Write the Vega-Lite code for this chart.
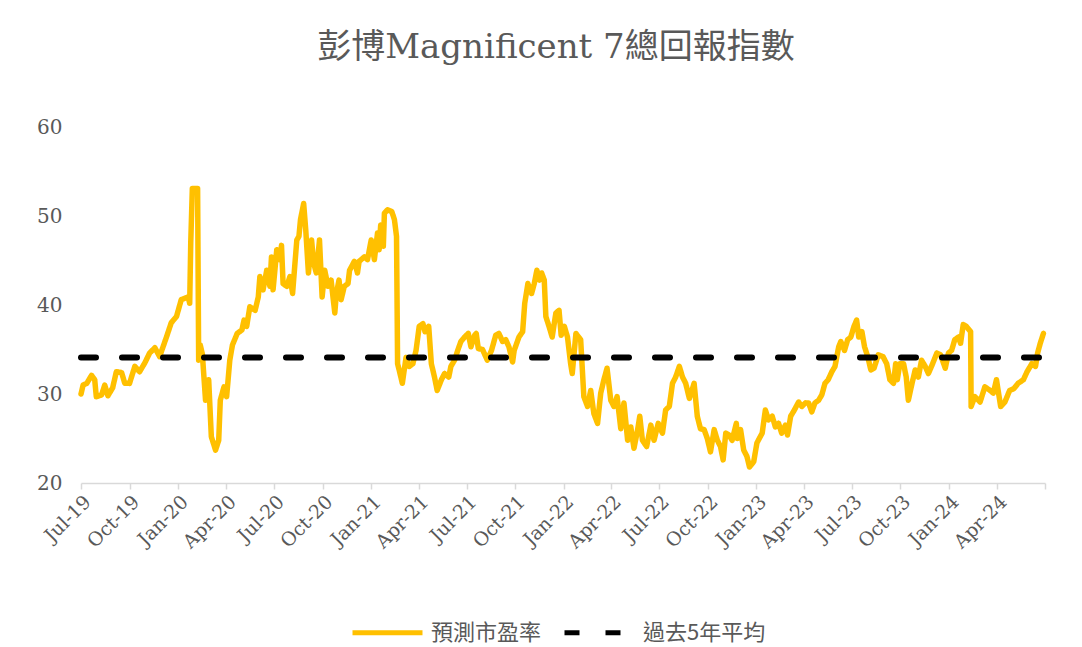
{
  "$schema": "https://vega.github.io/schema/vega-lite/v6.json",
  "width": 964,
  "height": 356,
  "autosize": {"type": "none"},
  "padding": {"left": 81, "top": 127, "right": 37, "bottom": 164},
  "background": "white",
  "title": {
    "text": "彭博Magnificent 7總回報指數",
    "font": "DejaVu Serif, Noto Sans CJK TC",
    "fontSize": 34,
    "fontWeight": "normal",
    "color": "#595959",
    "anchor": "middle",
    "frame": "group",
    "dx": -7,
    "offset": 52
  },
  "config": {
    "view": {"stroke": null},
    "legend": {
      "orient": "none",
      "legendX": 269,
      "legendY": 468,
      "direction": "horizontal",
      "title": null,
      "labelFont": "Noto Sans CJK TC",
      "labelFontSize": 22,
      "labelColor": "#595959",
      "symbolType": "stroke",
      "symbolSize": 4900,
      "symbolStrokeWidth": 5,
      "labelOffset": 6,
      "columnPadding": 12
    }
  },
  "datasets": {
    "pe": [
      {"d":"2019-07-01","v":30.0},{"d":"2019-07-05","v":31.0},{"d":"2019-07-12","v":31.2},{"d":"2019-07-21","v":32.1},
      {"d":"2019-07-27","v":31.6},{"d":"2019-07-30","v":29.7},{"d":"2019-08-09","v":29.9},{"d":"2019-08-15","v":31.0},
      {"d":"2019-08-21","v":29.8},{"d":"2019-08-30","v":30.7},{"d":"2019-09-06","v":32.5},{"d":"2019-09-16","v":32.4},
      {"d":"2019-09-22","v":31.2},{"d":"2019-10-01","v":31.2},{"d":"2019-10-11","v":33.1},{"d":"2019-10-20","v":32.5},
      {"d":"2019-10-30","v":33.5},{"d":"2019-11-08","v":34.6},{"d":"2019-11-18","v":35.2},{"d":"2019-11-27","v":34.2},
      {"d":"2019-12-10","v":36.4},{"d":"2019-12-19","v":38.0},{"d":"2019-12-29","v":38.7},{"d":"2020-01-07","v":40.6},
      {"d":"2020-01-20","v":40.9},{"d":"2020-01-23","v":40.2},{"d":"2020-01-25","v":47.0},{"d":"2020-01-28","v":53.1},
      {"d":"2020-02-07","v":53.1},{"d":"2020-02-09","v":33.8},{"d":"2020-02-12","v":35.5},{"d":"2020-02-16","v":34.5},
      {"d":"2020-02-22","v":29.3},{"d":"2020-02-28","v":31.6},{"d":"2020-03-04","v":25.2},{"d":"2020-03-12","v":23.7},
      {"d":"2020-03-18","v":24.8},{"d":"2020-03-21","v":29.3},{"d":"2020-03-28","v":30.8},{"d":"2020-04-02","v":29.7},
      {"d":"2020-04-08","v":33.8},{"d":"2020-04-13","v":35.5},{"d":"2020-04-22","v":36.8},{"d":"2020-05-01","v":37.2},
      {"d":"2020-05-05","v":38.3},{"d":"2020-05-10","v":37.6},{"d":"2020-05-16","v":39.8},{"d":"2020-05-26","v":39.4},
      {"d":"2020-06-01","v":40.9},{"d":"2020-06-04","v":43.2},{"d":"2020-06-10","v":41.7},{"d":"2020-06-17","v":43.9},
      {"d":"2020-06-23","v":42.1},{"d":"2020-06-26","v":45.4},{"d":"2020-06-29","v":41.7},{"d":"2020-07-06","v":46.2},
      {"d":"2020-07-12","v":45.1},{"d":"2020-07-15","v":46.7},{"d":"2020-07-18","v":42.4},{"d":"2020-07-25","v":42.1},
      {"d":"2020-07-31","v":43.2},{"d":"2020-08-05","v":41.3},{"d":"2020-08-13","v":47.3},{"d":"2020-08-17","v":47.7},
      {"d":"2020-08-20","v":49.6},{"d":"2020-08-26","v":51.4},{"d":"2020-08-30","v":48.4},{"d":"2020-09-04","v":43.6},
      {"d":"2020-09-10","v":47.3},{"d":"2020-09-14","v":44.7},{"d":"2020-09-19","v":43.6},{"d":"2020-09-25","v":47.3},
      {"d":"2020-09-30","v":40.9},{"d":"2020-10-05","v":43.9},{"d":"2020-10-11","v":42.1},{"d":"2020-10-17","v":42.8},
      {"d":"2020-10-24","v":39.1},{"d":"2020-10-27","v":41.3},{"d":"2020-11-01","v":42.8},{"d":"2020-11-05","v":40.6},
      {"d":"2020-11-11","v":42.1},{"d":"2020-11-18","v":42.4},{"d":"2020-11-21","v":43.9},{"d":"2020-11-30","v":44.9},
      {"d":"2020-12-06","v":43.6},{"d":"2020-12-09","v":44.9},{"d":"2020-12-19","v":45.4},{"d":"2020-12-25","v":45.1},
      {"d":"2021-01-01","v":47.3},{"d":"2021-01-07","v":45.1},{"d":"2021-01-13","v":48.1},{"d":"2021-01-16","v":46.2},
      {"d":"2021-01-19","v":49.0},{"d":"2021-01-24","v":46.6},{"d":"2021-01-26","v":50.3},{"d":"2021-02-01","v":50.7},
      {"d":"2021-02-09","v":50.5},{"d":"2021-02-14","v":49.6},{"d":"2021-02-18","v":47.7},{"d":"2021-02-20","v":33.4},
      {"d":"2021-02-23","v":32.7},{"d":"2021-03-01","v":31.2},{"d":"2021-03-08","v":34.1},{"d":"2021-03-14","v":33.1},
      {"d":"2021-03-21","v":33.4},{"d":"2021-03-27","v":34.9},{"d":"2021-04-02","v":37.6},{"d":"2021-04-09","v":37.9},
      {"d":"2021-04-13","v":37.0},{"d":"2021-04-20","v":37.6},{"d":"2021-04-25","v":33.4},{"d":"2021-05-01","v":31.9},
      {"d":"2021-05-06","v":30.4},{"d":"2021-05-14","v":31.6},{"d":"2021-05-20","v":32.3},{"d":"2021-05-28","v":31.9},
      {"d":"2021-06-01","v":33.1},{"d":"2021-06-08","v":33.8},{"d":"2021-06-14","v":34.9},{"d":"2021-06-20","v":35.9},
      {"d":"2021-06-27","v":36.4},{"d":"2021-07-04","v":36.8},{"d":"2021-07-09","v":35.3},{"d":"2021-07-16","v":36.6},
      {"d":"2021-07-19","v":36.8},{"d":"2021-07-23","v":35.1},{"d":"2021-07-31","v":35.0},{"d":"2021-08-09","v":33.8},
      {"d":"2021-08-17","v":34.9},{"d":"2021-08-25","v":36.6},{"d":"2021-08-31","v":36.8},{"d":"2021-09-07","v":35.9},
      {"d":"2021-09-13","v":36.1},{"d":"2021-09-19","v":35.3},{"d":"2021-09-26","v":33.6},{"d":"2021-09-29","v":34.9},
      {"d":"2021-10-08","v":36.4},{"d":"2021-10-15","v":37.0},{"d":"2021-10-19","v":40.2},{"d":"2021-10-25","v":42.4},
      {"d":"2021-11-01","v":41.3},{"d":"2021-11-06","v":42.4},{"d":"2021-11-11","v":43.9},{"d":"2021-11-16","v":42.8},
      {"d":"2021-11-20","v":43.6},{"d":"2021-11-25","v":42.8},{"d":"2021-11-28","v":38.7},{"d":"2021-12-04","v":37.6},
      {"d":"2021-12-10","v":36.4},{"d":"2021-12-17","v":39.1},{"d":"2021-12-23","v":39.4},{"d":"2021-12-27","v":36.6},
      {"d":"2022-01-02","v":37.6},{"d":"2022-01-08","v":36.4},{"d":"2022-01-14","v":33.4},{"d":"2022-01-17","v":32.3},
      {"d":"2022-01-24","v":36.8},{"d":"2022-02-02","v":36.1},{"d":"2022-02-08","v":29.7},{"d":"2022-02-15","v":28.6},
      {"d":"2022-02-21","v":30.4},{"d":"2022-02-27","v":27.8},{"d":"2022-03-06","v":26.7},{"d":"2022-03-12","v":30.1},
      {"d":"2022-03-18","v":31.6},{"d":"2022-03-24","v":32.9},{"d":"2022-03-31","v":29.3},{"d":"2022-04-06","v":28.6},
      {"d":"2022-04-12","v":29.7},{"d":"2022-04-19","v":26.1},{"d":"2022-04-25","v":29.0},{"d":"2022-05-02","v":24.8},
      {"d":"2022-05-08","v":26.3},{"d":"2022-05-14","v":23.9},{"d":"2022-05-21","v":26.0},{"d":"2022-05-25","v":27.5},
      {"d":"2022-05-30","v":24.8},{"d":"2022-06-07","v":24.1},{"d":"2022-06-15","v":26.5},{"d":"2022-06-21","v":24.8},
      {"d":"2022-06-29","v":26.7},{"d":"2022-07-07","v":25.6},{"d":"2022-07-13","v":28.2},{"d":"2022-07-20","v":28.6},
      {"d":"2022-07-26","v":31.2},{"d":"2022-08-01","v":31.9},{"d":"2022-08-08","v":33.1},{"d":"2022-08-14","v":31.9},
      {"d":"2022-08-20","v":31.2},{"d":"2022-08-27","v":29.5},{"d":"2022-09-05","v":31.2},{"d":"2022-09-11","v":27.5},
      {"d":"2022-09-17","v":26.1},{"d":"2022-09-24","v":26.0},{"d":"2022-09-30","v":25.0},{"d":"2022-10-06","v":23.5},
      {"d":"2022-10-13","v":26.0},{"d":"2022-10-19","v":24.8},{"d":"2022-10-25","v":24.1},{"d":"2022-10-30","v":22.6},
      {"d":"2022-11-04","v":25.6},{"d":"2022-11-10","v":25.4},{"d":"2022-11-16","v":24.8},{"d":"2022-11-24","v":26.7},
      {"d":"2022-11-26","v":25.0},{"d":"2022-12-02","v":26.0},{"d":"2022-12-08","v":23.7},{"d":"2022-12-14","v":23.0},
      {"d":"2022-12-19","v":21.8},{"d":"2022-12-27","v":22.4},{"d":"2023-01-02","v":24.5},{"d":"2023-01-12","v":25.6},
      {"d":"2023-01-18","v":28.2},{"d":"2023-01-24","v":27.1},{"d":"2023-01-31","v":27.5},{"d":"2023-02-06","v":26.3},
      {"d":"2023-02-12","v":26.7},{"d":"2023-02-18","v":25.6},{"d":"2023-02-25","v":26.5},{"d":"2023-03-01","v":25.4},
      {"d":"2023-03-07","v":27.5},{"d":"2023-03-14","v":28.2},{"d":"2023-03-22","v":29.1},{"d":"2023-03-28","v":28.6},
      {"d":"2023-04-04","v":29.0},{"d":"2023-04-10","v":29.0},{"d":"2023-04-16","v":28.0},{"d":"2023-04-22","v":29.0},
      {"d":"2023-04-29","v":29.3},{"d":"2023-05-05","v":29.9},{"d":"2023-05-11","v":31.2},{"d":"2023-05-17","v":31.6},
      {"d":"2023-05-24","v":32.5},{"d":"2023-05-30","v":33.1},{"d":"2023-06-06","v":35.3},{"d":"2023-06-10","v":35.9},
      {"d":"2023-06-17","v":34.9},{"d":"2023-06-23","v":36.1},{"d":"2023-06-29","v":36.4},{"d":"2023-07-05","v":37.6},
      {"d":"2023-07-10","v":38.3},{"d":"2023-07-14","v":36.4},{"d":"2023-07-20","v":37.0},{"d":"2023-07-25","v":35.3},
      {"d":"2023-07-31","v":34.2},{"d":"2023-08-06","v":32.7},{"d":"2023-08-12","v":32.9},{"d":"2023-08-20","v":34.4},
      {"d":"2023-08-29","v":34.2},{"d":"2023-09-05","v":33.4},{"d":"2023-09-11","v":31.6},{"d":"2023-09-18","v":31.2},
      {"d":"2023-09-22","v":33.4},{"d":"2023-09-25","v":31.6},{"d":"2023-09-30","v":33.4},{"d":"2023-10-07","v":33.4},
      {"d":"2023-10-12","v":31.9},{"d":"2023-10-16","v":29.3},{"d":"2023-10-23","v":31.2},{"d":"2023-10-29","v":32.7},
      {"d":"2023-11-04","v":31.9},{"d":"2023-11-10","v":33.8},{"d":"2023-11-17","v":33.1},{"d":"2023-11-23","v":32.3},
      {"d":"2023-12-01","v":33.4},{"d":"2023-12-09","v":34.6},{"d":"2023-12-16","v":34.4},{"d":"2023-12-25","v":32.9},
      {"d":"2023-12-31","v":34.6},{"d":"2024-01-06","v":34.9},{"d":"2024-01-12","v":36.1},{"d":"2024-01-19","v":36.4},
      {"d":"2024-01-23","v":35.7},{"d":"2024-01-28","v":37.8},{"d":"2024-02-03","v":37.6},{"d":"2024-02-11","v":37.0},
      {"d":"2024-02-12","v":28.6},{"d":"2024-02-19","v":29.7},{"d":"2024-02-29","v":29.1},{"d":"2024-03-09","v":30.8},
      {"d":"2024-03-19","v":30.4},{"d":"2024-03-25","v":30.1},{"d":"2024-03-31","v":31.6},{"d":"2024-04-08","v":28.6},
      {"d":"2024-04-16","v":29.1},{"d":"2024-04-25","v":30.4},{"d":"2024-05-03","v":30.6},{"d":"2024-05-11","v":31.2},
      {"d":"2024-05-21","v":31.6},{"d":"2024-05-28","v":32.5},{"d":"2024-06-06","v":33.4},{"d":"2024-06-13","v":33.1},
      {"d":"2024-06-17","v":34.6},{"d":"2024-06-22","v":35.7},{"d":"2024-06-28","v":36.8}
    ],
    "avg": [
      {"d":"2019-07-01","v":34.1},{"d":"2024-06-28","v":34.1}
    ]
  },
  "layer": [
    {
      "data": {"name": "pe"},
      "mark": {"type": "line", "strokeWidth": 5.5, "strokeCap": "round", "strokeJoin": "round"},
      "encoding": {
        "x": {"field": "d", "type": "temporal"},
        "y": {"field": "v", "type": "quantitative"},
        "color": {"datum": "預測市盈率"},
        "strokeDash": {"datum": "預測市盈率"}
      }
    },
    {
      "data": {"name": "avg"},
      "mark": {"type": "line", "strokeWidth": 6, "strokeCap": "round"},
      "encoding": {
        "x": {"field": "d", "type": "temporal"},
        "y": {"field": "v", "type": "quantitative"},
        "color": {"datum": "過去5年平均"},
        "strokeDash": {"datum": "過去5年平均"}
      }
    }
  ],
  "resolve": {"scale": {"color": "shared", "strokeDash": "shared"}},
  "encoding": {
    "x": {
      "field": "d",
      "type": "temporal",
      "scale": {
        "type": "utc",
        "domain": [
          {"year": 2019, "month": 7, "date": 1, "utc": true},
          {"year": 2024, "month": 7, "date": 1, "utc": true}
        ]
      },
      "axis": {
        "title": null,
        "grid": false,
        "values": [
          {"year": 2019, "month": 7, "date": 1, "utc": true},
          {"year": 2019, "month": 10, "date": 1, "utc": true},
          {"year": 2020, "month": 1, "date": 1, "utc": true},
          {"year": 2020, "month": 4, "date": 1, "utc": true},
          {"year": 2020, "month": 7, "date": 1, "utc": true},
          {"year": 2020, "month": 10, "date": 1, "utc": true},
          {"year": 2021, "month": 1, "date": 1, "utc": true},
          {"year": 2021, "month": 4, "date": 1, "utc": true},
          {"year": 2021, "month": 7, "date": 1, "utc": true},
          {"year": 2021, "month": 10, "date": 1, "utc": true},
          {"year": 2022, "month": 1, "date": 1, "utc": true},
          {"year": 2022, "month": 4, "date": 1, "utc": true},
          {"year": 2022, "month": 7, "date": 1, "utc": true},
          {"year": 2022, "month": 10, "date": 1, "utc": true},
          {"year": 2023, "month": 1, "date": 1, "utc": true},
          {"year": 2023, "month": 4, "date": 1, "utc": true},
          {"year": 2023, "month": 7, "date": 1, "utc": true},
          {"year": 2023, "month": 10, "date": 1, "utc": true},
          {"year": 2024, "month": 1, "date": 1, "utc": true},
          {"year": 2024, "month": 4, "date": 1, "utc": true},
          {"year": 2024, "month": 7, "date": 1, "utc": true}
        ],
        "labelExpr": "datum.value > 1715000000000 ? '' : utcFormat(datum.value, '%b-%y')",
        "labelAngle": -45,
        "labelAlign": "right",
        "labelBaseline": "top",
        "labelFlush": false,
        "labelOverlap": false,
        "labelFont": "DejaVu Serif",
        "labelFontSize": 19,
        "labelColor": "#595959",
        "labelPadding": 3,
        "domainColor": "#d9d9d9",
        "domainWidth": 1.5,
        "tickColor": "#d9d9d9",
        "tickWidth": 1.5,
        "tickSize": 6
      }
    },
    "y": {
      "field": "v",
      "type": "quantitative",
      "scale": {"domain": [20, 60], "nice": false, "zero": false},
      "axis": {
        "title": null,
        "grid": false,
        "domain": false,
        "ticks": false,
        "values": [20, 30, 40, 50, 60],
        "labelFont": "DejaVu Serif",
        "labelFontSize": 20,
        "labelColor": "#595959",
        "labelPadding": 19
      }
    },
    "color": {
      "scale": {"domain": ["預測市盈率", "過去5年平均"], "range": ["#FFC000", "#000000"]},
      "legend": {}
    },
    "strokeDash": {
      "scale": {"domain": ["預測市盈率", "過去5年平均"], "range": [[1, 0], [15, 26]]},
      "legend": {}
    }
  }
}
